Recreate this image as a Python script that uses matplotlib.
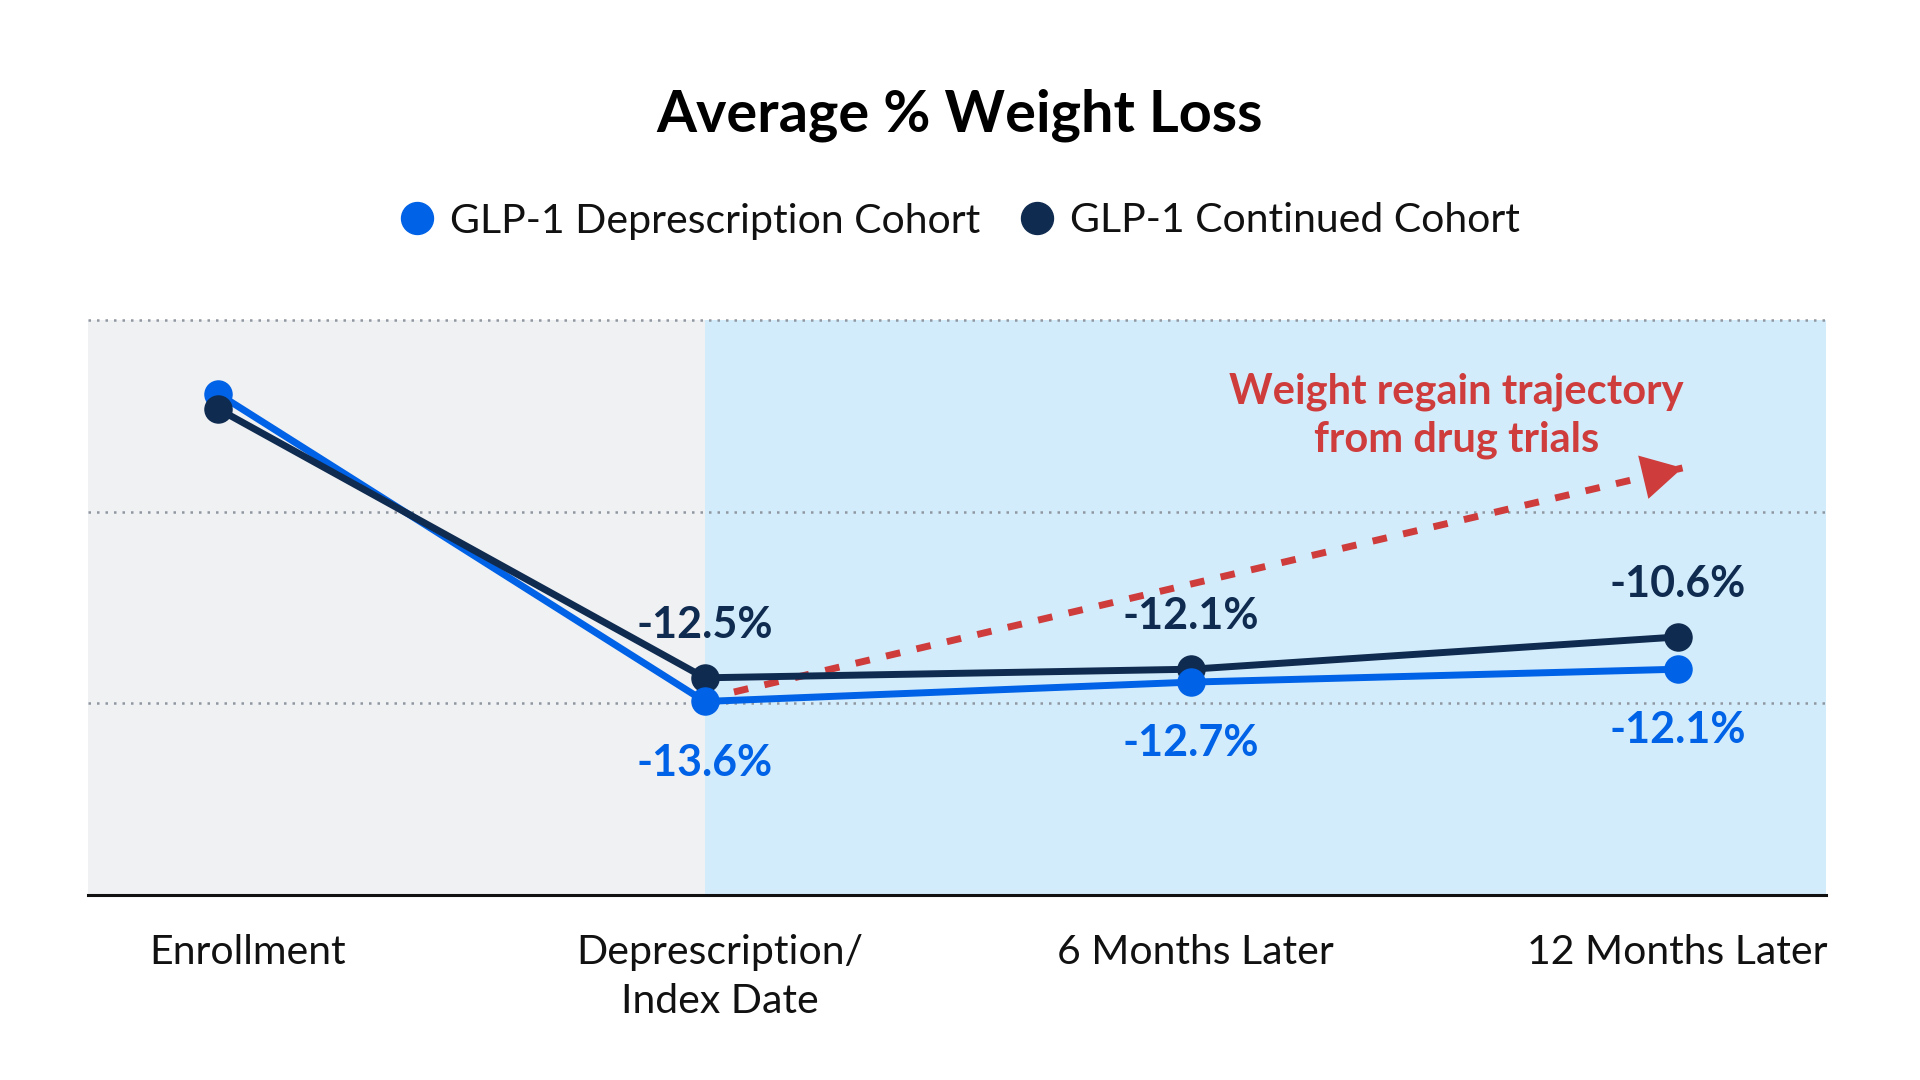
import matplotlib
matplotlib.use("Agg")
import matplotlib.pyplot as plt
from matplotlib.lines import Line2D
from matplotlib.transforms import ScaledTranslation

plt.rcParams['font.family'] = ['Lato', 'DejaVu Sans']

# ---- data ----
categories = ["Enrollment", "Deprescription/\nIndex Date", "6 Months Later", "12 Months Later"]
deprescription_vals = [0.7, -13.6, -12.7, -12.1]
continued_vals = [0.0, -12.5, -12.1, -10.6]
deprescription_labels = [None, "-13.6%", "-12.7%", "-12.1%"]
continued_labels = [None, "-12.5%", "-12.1%", "-10.6%"]
series_names = ["GLP-1 Deprescription Cohort", "GLP-1 Continued Cohort"]
title = "Average % Weight Loss"
annotation_text = "Weight regain trajectory\nfrom drug trials"
trajectory_start = (1.06, -13.16)
trajectory_end = (3.01, -2.74)
annotation_pos = (2.545, -0.33)

# ---- style ----
BLUE = "#0062E6"
NAVY = "#0F2B50"
RED = "#CF3C3C"
GREY_BG = "#F0F1F3"
BLUE_BG = "#D3ECFC"
GRID = "#9097A0"

fig = plt.figure(figsize=(19.2, 10.8), dpi=100)
fig.patch.set_facecolor("white")
ax = fig.add_axes([88/1920, 1-895/1080, (1826-88)/1920, (895-320)/1080])

xmin, xmax = -0.268, 3.305
ymin, ymax = -22.6, 4.14
ax.set_xlim(xmin, xmax)
ax.set_ylim(ymin, ymax)

x = list(range(len(categories)))
ax.axvspan(xmin, x[1], color=GREY_BG, zorder=0, lw=0)
ax.axvspan(x[1], xmax, color=BLUE_BG, zorder=0, lw=0)

# dotted gridlines at top, 1/3, 2/3
for frac in [1/3, 2/3, 1.0]:
    ax.axhline(ymin + frac*(ymax-ymin), color=GRID, lw=1.8,
               linestyle=(0, (1, 2.4)), zorder=1, clip_on=False)

# trajectory arrow
ax.plot([trajectory_start[0], trajectory_end[0]], [trajectory_start[1], trajectory_end[1]],
        color=RED, lw=5, linestyle=(0, (2.1, 2.4)), zorder=2,
        dash_capstyle='butt')
ax.annotate("", xy=trajectory_end, xytext=trajectory_start,
            arrowprops=dict(arrowstyle="-|>,head_length=1.45,head_width=0.8",
                            mutation_scale=20, color=RED, lw=0,
                            shrinkA=0, shrinkB=0), zorder=3)
ax.text(annotation_pos[0], annotation_pos[1], annotation_text, color=RED,
        fontsize=30, fontweight='bold', ha='center', va='center',
        linespacing=1.3, zorder=4)

# lines
ax.plot(x, deprescription_vals, color=BLUE, lw=5, zorder=4, solid_capstyle='round')
ax.plot(x, continued_vals, color=NAVY, lw=5, zorder=5, solid_capstyle='round')
ax.plot(x[1:], continued_vals[1:], 'o', color=NAVY, ms=19.5, zorder=6)
ax.plot(x, deprescription_vals, 'o', color=BLUE, ms=19.5, zorder=7)
ax.plot(x[:1], continued_vals[:1], 'o', color=NAVY, ms=19.5, zorder=8)

for xi, v, lab in zip(x, continued_vals, continued_labels):
    if lab:
        ax.annotate(lab, (xi, v), xytext=(0, 38), textcoords='offset points',
                    ha='center', va='center', fontsize=31, fontweight='bold',
                    color=NAVY, zorder=9)
for xi, v, lab in zip(x, deprescription_vals, deprescription_labels):
    if lab:
        ax.annotate(lab, (xi, v), xytext=(0, -44), textcoords='offset points',
                    ha='center', va='center', fontsize=31, fontweight='bold',
                    color=BLUE, zorder=9)

# axes styling
for s in ['top', 'right', 'left']:
    ax.spines[s].set_visible(False)
ax.spines['bottom'].set_color('#111111')
ax.spines['bottom'].set_linewidth(2.2)
ax.set_yticks([])
ax.set_xticks(x)
ax.set_xticklabels(categories, fontsize=29.5, color='#111111', linespacing=1.4)
ax.tick_params(axis='x', length=0, pad=28)
label_shift_px = [29, 15, 4, 0]
for lbl, dx in zip(ax.get_xticklabels(), label_shift_px):
    lbl.set_transform(lbl.get_transform() + ScaledTranslation(dx/100, 0, fig.dpi_scale_trans))
ax.set_facecolor('white')

# title
fig.text(0.5, 1-115/1080, title, ha='center', va='center', fontsize=41.5,
         fontweight='bold', color='black')

# legend
handles = [Line2D([], [], marker='o', linestyle='none', color=BLUE, markersize=23),
           Line2D([], [], marker='o', linestyle='none', color=NAVY, markersize=23)]
fig.legend(handles, series_names, loc='center', bbox_to_anchor=(0.499, 1-221/1080),
           ncol=2, frameon=False, fontsize=29.5, handletextpad=0.3,
           columnspacing=0.9, handlelength=1.0, labelcolor='#111111')

fig.savefig("out.png", dpi=100, facecolor='white')
